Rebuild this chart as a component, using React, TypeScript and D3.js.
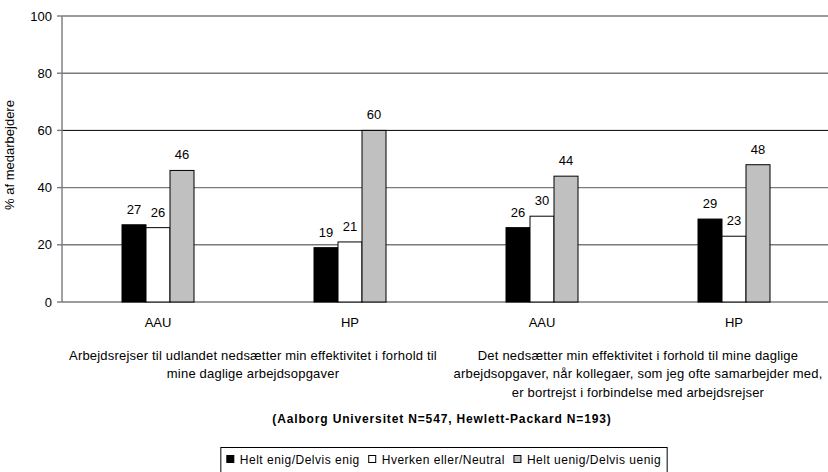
import React from "react";
import * as d3 from "d3";

const categories = ["AAU", "HP", "AAU", "HP"];
const seriesNames = ["Helt enig/Delvis enig", "Hverken eller/Neutral", "Helt uenig/Delvis uenig"];
const agree = [27, 19, 26, 29];
const neutral = [26, 21, 30, 23];
const disagree = [46, 60, 44, 48];
const yTicks = [0, 20, 40, 60, 80, 100];
const question1 = ["Arbejdsrejser til udlandet nedsætter min effektivitet i forhold til", "mine daglige arbejdsopgaver"];
const question2 = [
  "Det nedsætter min effektivitet i forhold til mine daglige",
  "arbejdsopgaver, når kollegaer, som jeg ofte samarbejder med,",
  "er bortrejst i forbindelse med arbejdsrejser",
];
const footnote = "(Aalborg Universitet N=547, Hewlett-Packard N=193)";
const yLabel = "% af medarbejdere";

const W = 828;
const H = 472;
const FONT = "'Liberation Sans', Arial, sans-serif";
const fills = ["#000000", "#ffffff", "#c0c0c0"];

function measure(text: string, font: string, spacing: number) {
  const c = document.createElement("canvas").getContext("2d")!;
  c.font = font;
  return c.measureText(text).width + spacing * text.length;
}

export default function App() {
  const left = 62;
  const right = 830;
  const top = 16;
  const bottom = 302;
  const x = d3.scaleBand<number>().domain(d3.range(categories.length)).range([left, right]).paddingInner(0);
  const sub = d3.scaleBand<number>().domain([0, 1, 2]).range([-36, 36]);
  const y = d3.scaleLinear().domain([0, 100]).range([bottom, top]);
  const series = [agree, neutral, disagree];
  const center = (i: number) => x(i)! + x.bandwidth() / 2;

  const legendFont = "12px 'Liberation Sans', Arial, sans-serif";
  const legendSpacing = 0.5;
  const widths = seriesNames.map((s) => measure(s, legendFont, legendSpacing));
  const sq = 7;
  const gapSqText = 6;
  const gapItems = 9;
  const totalW = widths.reduce((a, w) => a + sq + gapSqText + w, 0) + gapItems * (widths.length - 1);
  const legCenter = (left + right) / 2 - 2;
  let cursor = legCenter - totalW / 2;
  const legendItems = widths.map((w) => {
    const it = { sx: cursor, tx: cursor + sq + gapSqText };
    cursor += sq + gapSqText + w + gapItems;
    return it;
  });
  const boxPad = 6;
  const boxX = legendItems[0].sx - boxPad;
  const boxW = totalW + boxPad * 2;

  const q1x = (center(0) + center(1)) / 2 - 1;
  const q2x = (center(2) + center(3)) / 2;

  return (
    <svg width={W} height={H} style={{ position: "absolute", left: 0, top: 0, background: "#fff" }} fontFamily={FONT}>
      <rect x={0} y={0} width={W} height={H} fill="#fff" />
      {yTicks.map((t) => (
        <g key={t}>
          <line
            x1={left}
            x2={right}
            y1={y(t)}
            y2={y(t)}
            stroke={t === 60 ? "#000" : "#7a7a7a"}
            strokeWidth={t === 60 ? 1 : 1.4}
          />
          <line x1={left - 5} x2={left} y1={y(t)} y2={y(t)} stroke="#7a7a7a" strokeWidth={1.4} />
          <text x={left - 10} y={y(t) + 4.5} textAnchor="end" fontSize={13} fill="#000">
            {t}
          </text>
        </g>
      ))}
      <line x1={left} x2={left} y1={top} y2={bottom} stroke="#7a7a7a" strokeWidth={1.4} />
      {categories.map((c, i) => (
        <g key={i}>
          {series.map((s, j) => (
            <rect
              key={j}
              x={center(i) + sub(j)!}
              y={y(s[i])}
              width={sub.bandwidth()}
              height={y(0) - y(s[i])}
              fill={fills[j]}
              stroke="#000"
              strokeWidth={1}
            />
          ))}
          {series.map((s, j) => (
            <text
              key={"l" + j}
              x={center(i) + sub(j)! + sub.bandwidth() / 2}
              y={y(s[i]) - 11}
              textAnchor="middle"
              fontSize={13}
              fill="#000"
            >
              {s[i]}
            </text>
          ))}
          <text x={center(i)} y={327} textAnchor="middle" fontSize={13} fill="#000">
            {c}
          </text>
        </g>
      ))}
      {question1.map((l, k) => (
        <text key={k} x={q1x} y={359.5 + k * 18.5} textAnchor="middle" fontSize={13} letterSpacing={0.2} fill="#000">
          {l}
        </text>
      ))}
      {question2.map((l, k) => (
        <text key={k} x={q2x} y={359.5 + k * 18.5} textAnchor="middle" fontSize={13} letterSpacing={0.2} fill="#000">
          {l}
        </text>
      ))}
      <text x={(left + right) / 2 - 4} y={423} textAnchor="middle" fontSize={12} fontWeight="bold" letterSpacing={0.85} fill="#000">
        {footnote}
      </text>
      <text transform={`translate(14, 155) rotate(-90)`} textAnchor="middle" fontSize={13} fill="#000">
        {yLabel}
      </text>
      <rect x={boxX} y={447.5} width={boxW} height={30} fill="#fff" stroke="#000" strokeWidth={1} />
      {legendItems.map((it, i) => (
        <g key={i}>
          <rect x={it.sx} y={455.5} width={sq} height={sq} fill={fills[i]} stroke="#000" strokeWidth={1} />
          <text x={it.tx} y={464} fontSize={12} letterSpacing={legendSpacing} fill="#000">
            {seriesNames[i]}
          </text>
        </g>
      ))}
    </svg>
  );
}
